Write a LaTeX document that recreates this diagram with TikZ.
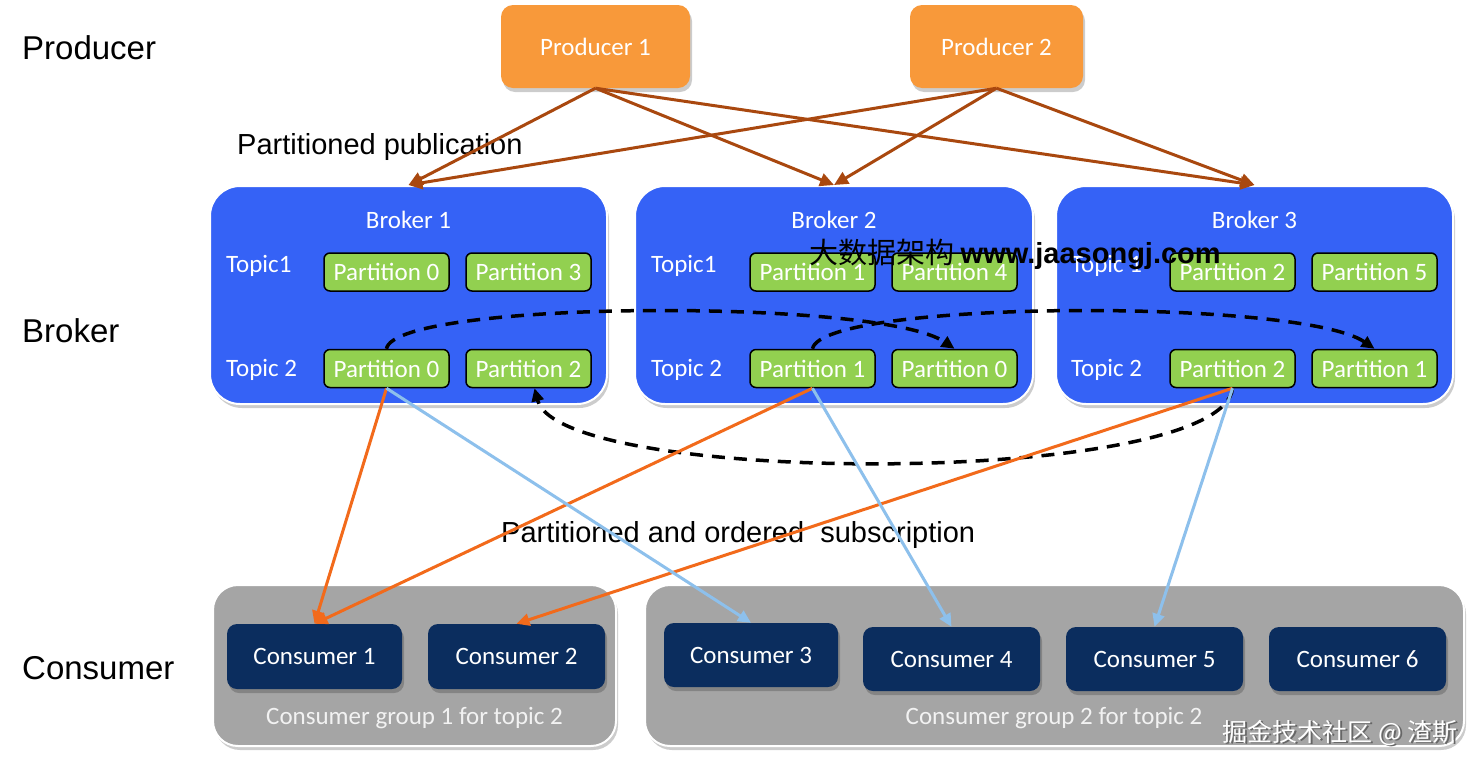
\documentclass[tikz,border=0pt]{standalone}
\usepackage{fontspec}
\setmainfont{Carlito}
\newfontfamily\arialfont{Liberation Sans}
\newfontfamily\cjkfont{Noto Sans CJK SC}
\usetikzlibrary{arrows.meta,shadows}
\definecolor{prodorange}{HTML}{F8993A}
\definecolor{brokerblue}{HTML}{3562F6}
\definecolor{partgreen}{HTML}{92D050}
\definecolor{consnavy}{HTML}{0B2D5E}
\definecolor{groupgray}{HTML}{A5A5A5}
\definecolor{pubbrown}{HTML}{A9480F}
\definecolor{suborange}{HTML}{F26A1B}
\definecolor{subblue}{HTML}{8DC0EC}
\tikzset{
  boxfont/.style={font=\fontsize{25}{27}\selectfont},
  softshadow/.style={drop shadow={shadow xshift=2pt,shadow yshift=-4pt,opacity=0.2,fill=black}},
  prodbox/.style={boxfont,fill=prodorange,rounded corners=12pt,text=white,softshadow,inner sep=0pt},
  brokerbox/.style={fill=brokerblue,draw=white,line width=2pt,rounded corners=30pt,softshadow,inner sep=0pt},
  partbox/.style={boxfont,fill=partgreen,draw=black,line width=1.5pt,rounded corners=6pt,minimum width=125pt,minimum height=38pt,text=white,inner sep=0pt},
  consbox/.style={boxfont,fill=consnavy,rounded corners=10pt,text=white,softshadow,inner sep=0pt},
  groupbox/.style={fill=groupgray,draw=white,line width=2pt,rounded corners=25pt,softshadow,inner sep=0pt},
  whitetext/.style={boxfont,text=white},
  grouptext/.style={boxfont,text=white!95!black},
  biglabel/.style={font=\arialfont\fontsize{33}{35}\selectfont,anchor=west,inner sep=0pt},
  midlabel/.style={font=\arialfont\fontsize{29}{31}\selectfont,anchor=west,inner sep=0pt},
  pubarrow/.style={draw=pubbrown,line width=3pt,-{Triangle[length=14pt,width=13pt]}},
  orangearrow/.style={draw=suborange,line width=3pt,-{Triangle[length=13pt,width=12pt]}},
  bluearrow/.style={draw=subblue,line width=3pt,-{Triangle[length=13pt,width=12pt]}},
  dasharrow/.style={draw=black,line width=3.5pt,dash pattern=on 13pt off 9pt,-{Triangle[length=13pt,width=12pt]}}
}
\begin{document}
\begin{tikzpicture}[x={(1pt,0)},y={(0,-1pt)}]
\useasboundingbox (0,0) rectangle (1479,769);
\fill[white] (0,0) rectangle (1479,769);

% left labels
\node[biglabel] (lprod) at (22,48) {Producer};
\node[biglabel] (lbrok) at (22,331) {Broker};
\node[biglabel] (lcons) at (22,668) {Consumer};
\node[midlabel] (lpub) at (237,147) {Partitioned publication};
\node[midlabel] (lsub) at (501,535) {Partitioned and ordered\ \ subscription};

% producers
\node[prodbox,minimum width=189pt,minimum height=83pt] (p1) at (595.5,46.5) {Producer 1};
\node[prodbox,minimum width=173pt,minimum height=83pt] (p2) at (996.5,46.5) {Producer 2};

% brokers
\node[brokerbox,minimum width=397pt,minimum height=218pt] (b1) at (408.5,295) {};
\node[brokerbox,minimum width=398pt,minimum height=218pt] (b2) at (834,295) {};
\node[brokerbox,minimum width=397pt,minimum height=218pt] (b3) at (1254.5,295) {};
\node[whitetext] (b1t) at (408.5,220) {Broker 1};
\node[whitetext] (b2t) at (834,220) {Broker 2};
\node[whitetext] (b3t) at (1254.5,220) {Broker 3};

\node[whitetext,anchor=west,inner sep=0pt] (b1a) at (226,266) {Topic1};
\node[whitetext,anchor=west,inner sep=0pt] (b1b) at (226,370) {Topic 2};
\node[whitetext,anchor=west,inner sep=0pt] (b2a) at (651,266) {Topic1};
\node[whitetext,anchor=west,inner sep=0pt] (b2b) at (651,370) {Topic 2};
\node[whitetext,anchor=west,inner sep=0pt] (b3a) at (1071,266) {Topic 1};
\node[whitetext,anchor=west,inner sep=0pt] (b3b) at (1071,370) {Topic 2};

\node[partbox] (b1t1p0) at (386.5,272) {Partition 0};
\node[partbox] (b1t1p3) at (528.5,272) {Partition 3};
\node[partbox] (b1t2p0) at (386.5,368.5) {Partition 0};
\node[partbox] (b1t2p2) at (528.5,368.5) {Partition 2};
\node[partbox] (b2t1p1) at (812.5,272) {Partition 1};
\node[partbox] (b2t1p4) at (954.5,272) {Partition 4};
\node[partbox] (b2t2p1) at (812.5,368.5) {Partition 1};
\node[partbox] (b2t2p0) at (954.5,368.5) {Partition 0};
\node[partbox] (b3t1p2) at (1232.5,272) {Partition 2};
\node[partbox] (b3t1p5) at (1374.5,272) {Partition 5};
\node[partbox] (b3t2p2) at (1232.5,368.5) {Partition 2};
\node[partbox] (b3t2p1) at (1374.5,368.5) {Partition 1};

% consumer groups
\node[groupbox,minimum width=403pt,minimum height=161pt] (g1) at (414.5,665.5) {};
\node[groupbox,minimum width=819pt,minimum height=161pt] (g2) at (1054.5,665.5) {};
\node[grouptext] (g1t) at (414.5,718) {Consumer group 1 for topic 2};
\node[grouptext] (g2t) at (1054,718) {Consumer group 2 for topic 2};

\node[consbox,minimum width=175pt,minimum height=65pt] (c1) at (314.5,656.5) {Consumer 1};
\node[consbox,minimum width=177pt,minimum height=65pt] (c2) at (516.5,656.5) {Consumer 2};
\node[consbox,minimum width=174pt,minimum height=64pt] (c3) at (751,655) {Consumer 3};
\node[consbox,minimum width=177pt,minimum height=64pt] (c4) at (951.5,659) {Consumer 4};
\node[consbox,minimum width=177pt,minimum height=64pt] (c5) at (1154.5,659) {Consumer 5};
\node[consbox,minimum width=177pt,minimum height=64pt] (c6) at (1357.5,659) {Consumer 6};

% publication arrows
\draw[pubarrow] (p1.south) -- (b1.north);
\draw[pubarrow] (p1.south) -- (b2.north);
\draw[pubarrow] (p1.south) -- (b3.north);
\draw[pubarrow] (p2.south) -- (b1.north);
\draw[pubarrow] (p2.south) -- (b2.north);
\draw[pubarrow] (p2.south) -- (b3.north);

% replication (dashed)
\draw[dasharrow] (b1t2p0.north) .. controls (395,300) and (880,298) .. (b2t2p0.north);
\draw[dasharrow] (b2t2p1.north) .. controls (822,300) and (1300,298) .. (b3t2p1.north);
\draw[dasharrow] (b3t2p2.south) .. controls (1222,487) and (560,487) .. ([xshift=6pt]b1t2p2.south);

% subscription arrows
\draw[orangearrow] (b1t2p0.south) -- (c1.north);
\draw[orangearrow] (b2t2p1.south) -- (c1.north);
\draw[orangearrow] (b3t2p2.south) -- (c2.north);
\draw[bluearrow] (b1t2p0.south) -- (c3.north);
\draw[bluearrow] (b2t2p1.south) -- (c4.north);
\draw[bluearrow] (b3t2p2.south) -- (c5.north);

% watermarks
\node[font=\fontsize{29}{31}\selectfont,text=black,anchor=west,inner sep=0pt] (wm1) at (809,254) {\cjkfont 大数据架构 {\arialfont\bfseries www.jaasongj.com}};
\node[font=\cjkfont\fontsize{25}{27}\selectfont,text=black!60,anchor=east,inner sep=0pt] (wm2s) at (1459.5,734.5) {掘金技术社区 @ 渣斯};
\node[font=\cjkfont\fontsize{25}{27}\selectfont,text=white,anchor=east,inner sep=0pt] (wm2) at (1458,733) {掘金技术社区 @ 渣斯};
\end{tikzpicture}
\end{document}
